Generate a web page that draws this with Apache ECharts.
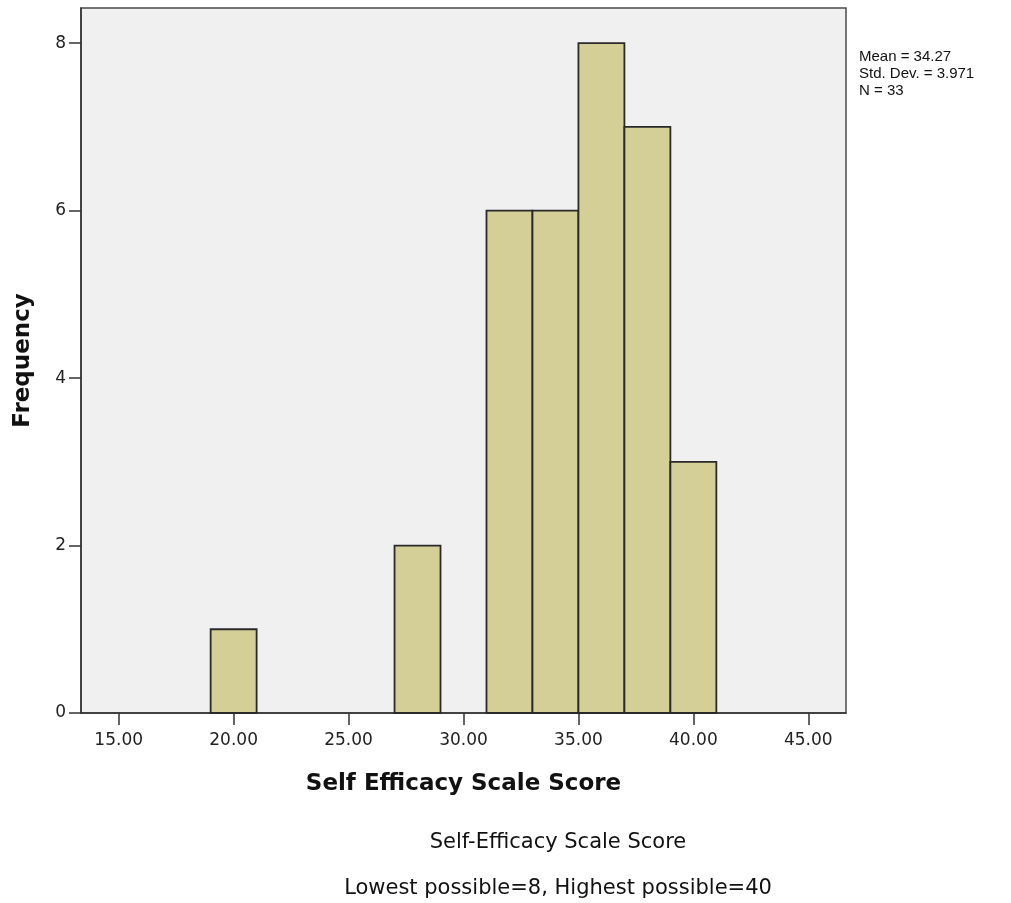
<!DOCTYPE html>
<html>
<head>
<meta charset="utf-8">
<script src="https://cdn.jsdelivr.net/npm/echarts@6/dist/echarts.min.js"></script>
<style>
html,body{margin:0;padding:0;background:#fff;}
#chart{width:1011px;height:903px;}
</style>
</head>
<body>
<div id="chart"></div>
<script>
// Histogram bins (lower edge, upper edge) and frequencies
const binLow  = [19, 27, 31, 33, 35, 37, 39];
const binHigh = [21, 29, 33, 35, 37, 39, 41];
const freq    = [1, 2, 6, 6, 8, 7, 3];
const xTicks  = [15, 20, 25, 30, 35, 40, 45];
const yTicks  = [0, 2, 4, 6, 8];
const statsLines = ['Mean = 34.27', 'Std. Dev. = 3.971', 'N = 33'];
const xAxisTitle = 'Self Efficacy Scale Score';
const yAxisTitle = 'Frequency';
const footnote1 = 'Self-Efficacy Scale Score';
const footnote2 = 'Lowest possible=8, Highest possible=40';

const data = binLow.map((lo, i) => [lo, binHigh[i], freq[i]]);
const WIDE = '"DejaVu Sans", sans-serif';
const ARIAL = '"Liberation Sans", Arial, sans-serif';

const chart = echarts.init(document.getElementById('chart'), null, {renderer: 'canvas'});
chart.setOption({
  animation: false,
  backgroundColor: '#ffffff',
  grid: {
    left: 81, top: 8, right: 165, bottom: 190,
    show: true, backgroundColor: '#f0f0f0', borderColor: '#4a4a4a', borderWidth: 1.5
  },
  xAxis: {
    type: 'value', min: 13.36, max: 46.64,
    name: xAxisTitle, nameLocation: 'middle', nameGap: 60,
    nameTextStyle: {fontFamily: WIDE, fontWeight: 'bold', fontSize: 23, color: '#111'},
    axisLine: {show: true, onZero: false, lineStyle: {color: '#333', width: 1.5}},
    axisTick: {show: true, length: 12, customValues: xTicks, lineStyle: {color: '#333', width: 1.5}},
    axisLabel: {customValues: xTicks, margin: 19, fontFamily: WIDE, fontSize: 17, color: '#222',
      formatter: v => v.toFixed(2)},
    splitLine: {show: false}
  },
  yAxis: {
    type: 'value', min: 0, max: 8.42,
    name: yAxisTitle, nameLocation: 'middle', nameGap: 46, nameRotate: 90,
    nameTextStyle: {fontFamily: WIDE, fontWeight: 'bold', fontSize: 23, color: '#111'},
    axisLine: {show: true, lineStyle: {color: '#333', width: 1.5}},
    axisTick: {show: true, length: 12, customValues: yTicks, lineStyle: {color: '#333', width: 1.5}},
    axisLabel: {customValues: yTicks, margin: 15, fontFamily: WIDE, fontSize: 17, color: '#222'},
    splitLine: {show: false}
  },
  series: [{
    type: 'custom',
    data: data,
    encode: {x: [0, 1], y: 2},
    renderItem: function (params, api) {
      const p0 = api.coord([api.value(0), 0]);
      const p1 = api.coord([api.value(1), api.value(2)]);
      return {
        type: 'rect',
        shape: {x: p0[0], y: p1[1], width: p1[0] - p0[0], height: p0[1] - p1[1]},
        style: {fill: '#d3cf97', stroke: '#2a2a2a', lineWidth: 1.8}
      };
    }
  }],
  graphic: [
    {type: 'text', left: 859, top: 48, style: {text: statsLines.join('\n'), font: '15px ' + ARIAL, fill: '#111', lineHeight: 17}},
    {type: 'text', x: 558, y: 843, style: {text: footnote1, font: '21px ' + WIDE, fill: '#111', align: 'center', verticalAlign: 'middle'}},
    {type: 'text', x: 558, y: 889, style: {text: footnote2, font: '21px ' + WIDE, fill: '#111', align: 'center', verticalAlign: 'middle'}}
  ]
});
</script>
</body>
</html>
